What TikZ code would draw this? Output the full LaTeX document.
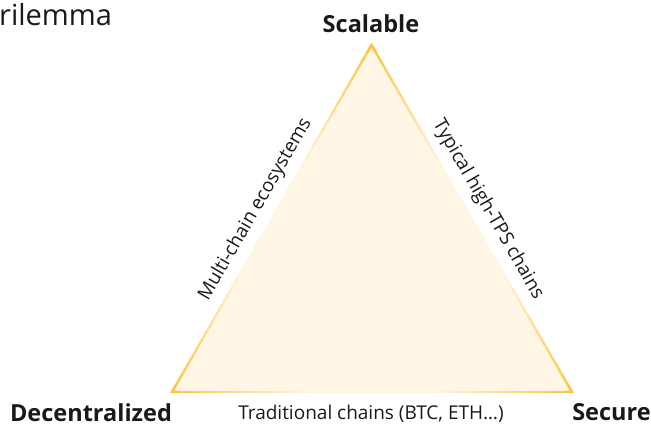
\documentclass[tikz,border=0pt]{standalone}
\usepackage{fontspec}
\setmainfont{Open Sans}
\usetikzlibrary{calc}
\definecolor{gold}{RGB}{250,198,66}
\definecolor{cream}{RGB}{255,246,230}
\definecolor{txt}{RGB}{25,25,25}
\tikzset{
  corner/.style={font=\bfseries\fontsize{23.5}{27}\selectfont, text=txt, inner sep=0pt},
  edgelabel/.style={font=\fontsize{19}{22}\selectfont, text=txt, inner sep=0pt},
}
\begin{document}
\begin{tikzpicture}[x=1pt,y=1pt]
\useasboundingbox (0,0) rectangle (651,425);
\coordinate (A) at (371.5,380);
\coordinate (B) at (172,33);
\coordinate (C) at (572,33);
\fill[cream] (A) -- (B) -- (C) -- cycle;
\foreach \P/\Q in {A/B,B/C,C/A}{
  \foreach \i in {0,...,39}{
    \pgfmathsetmacro{\ta}{\i/40}
    \pgfmathsetmacro{\tb}{(\i+1)/40}
    \pgfmathsetmacro{\tm}{(\i+0.5)/40}
    \pgfmathsetmacro{\w}{max(0,100*(1-min(\tm,1-\tm)/0.36))}
    \draw[gold!\w!cream, line width=2.4pt, line cap=round] ($(\P)!\ta!(\Q)$) -- ($(\P)!\tb!(\Q)$);
  }
}
\draw[gold, line width=2.4pt, line join=miter] ($(A)!0.02!(B)$) -- (A) -- ($(A)!0.02!(C)$);
\draw[gold, line width=2.4pt, line join=miter] ($(B)!0.02!(A)$) -- (B) -- ($(B)!0.02!(C)$);
\draw[gold, line width=2.4pt, line join=miter] ($(C)!0.02!(A)$) -- (C) -- ($(C)!0.02!(B)$);
\node[corner] (scal) at (371,401.5) {Scalable};
\node[corner] (dec) at (91,12.5) {Decentralized};
\node[corner] (sec) at (611.5,12.5) {Secure};
\node[font=\fontsize{29}{33}\selectfont, text=txt, anchor=west, inner sep=0pt] (title) at (-1,410) {rilemma};
\node[edgelabel, rotate=60] (ml) at (255.5,215.5) {Multi-chain ecosystems};
\node[edgelabel, rotate=-60] (mr) at (488,215.5) {Typical high-TPS chains};
\node[edgelabel] (mb) at (371,11.5) {Traditional chains (BTC, ETH…)};
\end{tikzpicture}
\end{document}
